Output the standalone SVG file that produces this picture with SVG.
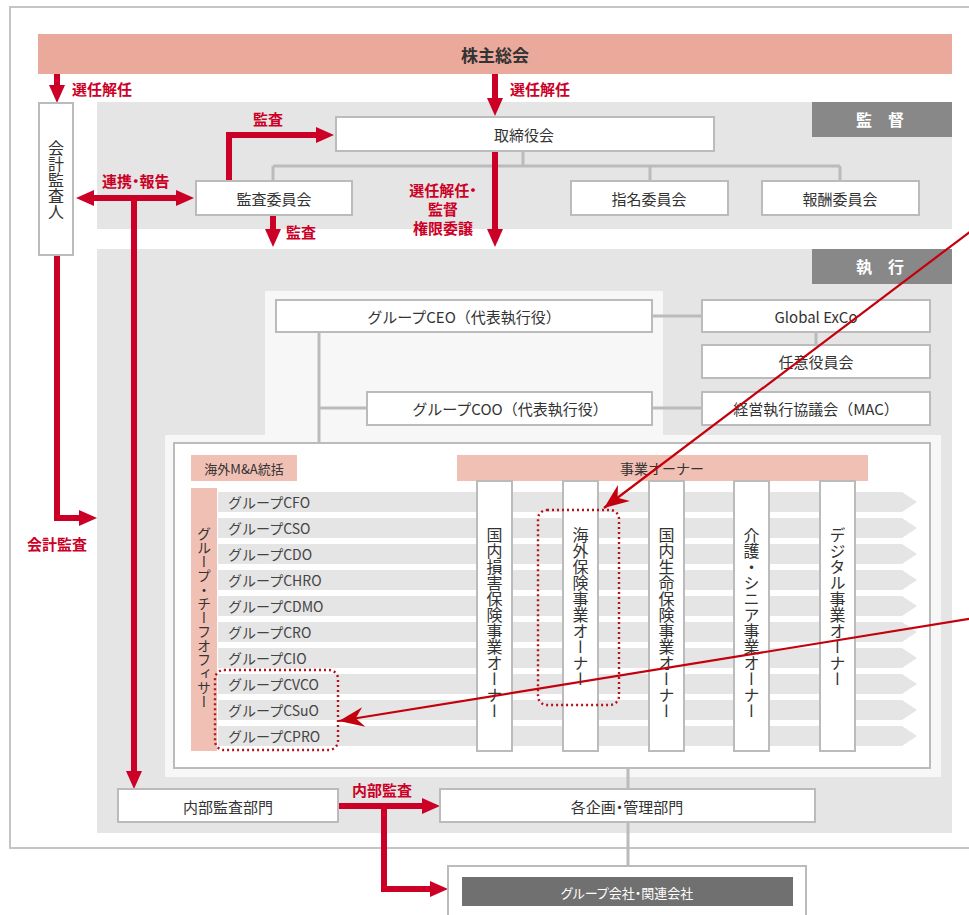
<svg xmlns="http://www.w3.org/2000/svg" width="969" height="915" viewBox="0 0 969 915">
<defs>
<style>
text{font-family:"Noto Sans CJK JP","Noto Sans",sans-serif;}
.box{fill:#fff;stroke:#bbb;stroke-width:2}
.t{font-size:15px;fill:#333;text-anchor:middle;dominant-baseline:central}
.r{font-size:14px;fill:#444;dominant-baseline:central}
.red{font-size:15px;font-weight:bold;fill:#cc0026;dominant-baseline:central}
.thick{stroke:#cc0026;stroke-width:6;fill:none}
.gl{stroke:#bbb;stroke-width:3;fill:none}
.v{writing-mode:vertical-rl;font-size:16px;fill:#333}
.thin{stroke:#c4000c;stroke-width:2.2;fill:none}
.dot{fill:none;stroke:#b5121b;stroke-width:2.4;stroke-dasharray:2 3}
.pink{fill:#f1c0b5}
.lab{fill:#888}
.lt{font-size:16px;font-weight:bold;fill:#fff;text-anchor:middle;dominant-baseline:central}
.stripe{fill:#e5e5e5}
.p{font-feature-settings:"palt"}
</style>
<marker id="ah" viewBox="0 -8 18 16" refX="0" refY="0" markerWidth="18" markerHeight="16" markerUnits="userSpaceOnUse" orient="auto-start-reverse"><path d="M0,-8 L18,0 L0,8z" fill="#cc0026"/></marker>
<marker id="ta" viewBox="-26 -11 27 22" refX="0" refY="0" markerWidth="27" markerHeight="22" markerUnits="userSpaceOnUse" orient="auto"><path d="M0,0 L-25,-10 L-17,0 L-25,10z" fill="#c4000c"/></marker>
<path id="stripe" d="M218,0 H902 L917,10 L902,20 H218z"/>
</defs>

<!-- background panels -->
<rect x="10" y="7" width="980" height="841" fill="#fff" stroke="#c4c4c4" stroke-width="2"/>
<rect x="97" y="102" width="855" height="127" fill="#e5e5e5"/>
<rect x="97" y="249" width="855" height="584" fill="#e5e5e5"/>
<path d="M265,291 H663 V435 H941 V777 H165 V435 H265z" fill="#f7f7f7"/>

<g id="shareholders">
<rect x="38" y="34" width="914" height="40" fill="#eba99b"/>
<text x="495" y="54" class="t" style="font-size:17px;font-weight:bold">株主総会</text>
</g>
<g id="label-kantoku">
<rect x="812" y="102" width="140" height="35" class="lab"/>
<text x="880" y="119" class="lt">監　督</text>
</g>
<g id="label-shikkou">
<rect x="812" y="249" width="140" height="35" class="lab"/>
<text x="880" y="266" class="lt">執　行</text>
</g>

<g id="connectors">
<path class="gl" d="M523,151 V166 M273,166 H840 M273,166 V181 M650,166 V181 M840,166 V181"/>
<path class="gl" d="M652,316 H702 M652,408 H702 M816,332 V345 M319,332 V443 M319,408 H367 M628,768 V788 M628,822 V866"/>
<path class="thick" d="M57,74 V85" marker-end="url(#ah)"/>
<path class="thick" d="M495,74 V98" marker-end="url(#ah)"/>
<path class="thick" d="M495,151 V229" marker-end="url(#ah)"/>
<path class="thick" d="M229,181 V135 H316" marker-end="url(#ah)"/>
<path class="thick" d="M273,215 V229" marker-end="url(#ah)"/>
<path class="thick" d="M94,198 H176" marker-start="url(#ah)" marker-end="url(#ah)"/>
<path class="thick" d="M134,198 V771" marker-end="url(#ah)"/>
<path class="thick" d="M57,255 V518 H79" marker-end="url(#ah)"/>
<path class="thick" d="M338,806 H422" marker-end="url(#ah)"/>
<path class="thick" d="M384,806 V889 H430" marker-end="url(#ah)"/>
</g>

<g id="red-labels">
<text x="72" y="88" class="red">選任解任</text>
<text x="510" y="88" class="red">選任解任</text>
<text x="253" y="118" class="red">監査</text>
<text x="102" y="180" class="red p">連携・報告</text>
<text x="286" y="231" class="red">監査</text>
<text x="443" y="189" class="red p" text-anchor="middle">選任解任・</text>
<text x="443" y="208" class="red" text-anchor="middle">監督</text>
<text x="443" y="227" class="red" text-anchor="middle">権限委譲</text>
<text x="27" y="543" class="red">会計監査</text>
<text x="352" y="789" class="red">内部監査</text>
</g>

<g id="auditor">
<rect x="39" y="103" width="34" height="152" class="box"/>
<text x="56" y="140" class="v">会計監査人</text>
</g>
<g id="board">
<rect x="336" y="117" width="378" height="34" class="box"/>
<text x="524" y="134" class="t">取締役会</text>
</g>
<g id="audit-committee">
<rect x="196" y="181" width="156" height="34" class="box"/>
<text x="274" y="198" class="t">監査委員会</text>
</g>
<g id="nomination-committee">
<rect x="571" y="181" width="157" height="34" class="box"/>
<text x="649" y="198" class="t">指名委員会</text>
</g>
<g id="compensation-committee">
<rect x="762" y="181" width="157" height="34" class="box"/>
<text x="840" y="198" class="t">報酬委員会</text>
</g>

<g id="ceo">
<rect x="276" y="300" width="376" height="32" class="box"/>
<text x="464" y="316" class="t">グループCEO（代表執行役）</text>
</g>
<g id="coo">
<rect x="367" y="392" width="285" height="33" class="box"/>
<text x="510" y="408" class="t">グループCOO（代表執行役）</text>
</g>
<g id="global-exco">
<rect x="702" y="300" width="228" height="32" class="box"/>
<text x="816" y="316" class="t">Global ExCo</text>
</g>
<g id="optional-board">
<rect x="702" y="345" width="228" height="33" class="box"/>
<text x="816" y="361" class="t">任意役員会</text>
</g>
<g id="mac">
<rect x="702" y="392" width="228" height="33" class="box"/>
<text x="816" y="408" class="t">経営執行協議会（MAC）</text>
</g>

<g id="execution-area">
<rect x="174" y="443" width="756" height="325" class="box"/>
</g>
<g id="ma">
<rect x="191" y="455" width="106" height="26" class="pink"/>
<text x="244" y="468" class="t" style="font-size:13px">海外M&amp;A統括</text>
</g>
<g id="business-owner-header">
<rect x="457" y="455" width="411" height="26" class="pink"/>
<text x="662" y="468" class="t" style="font-size:14px">事業オーナー</text>
</g>
<g id="chief-officers">
<rect x="191" y="488" width="26" height="263" class="pink"/>
<text x="204" y="527" class="v" style="font-size:14px">グループ・チーフオフィサー</text>
</g>
<g id="rows">
<use href="#stripe" y="492" class="stripe"/>
<use href="#stripe" y="518" class="stripe"/>
<use href="#stripe" y="544" class="stripe"/>
<use href="#stripe" y="570" class="stripe"/>
<use href="#stripe" y="596" class="stripe"/>
<use href="#stripe" y="622" class="stripe"/>
<use href="#stripe" y="648" class="stripe"/>
<use href="#stripe" y="674" class="stripe"/>
<use href="#stripe" y="700" class="stripe"/>
<use href="#stripe" y="726" class="stripe"/>
<text x="228" y="502" class="r">グループCFO</text>
<text x="228" y="528" class="r">グループCSO</text>
<text x="228" y="554" class="r">グループCDO</text>
<text x="228" y="580" class="r">グループCHRO</text>
<text x="228" y="606" class="r">グループCDMO</text>
<text x="228" y="632" class="r">グループCRO</text>
<text x="228" y="658" class="r">グループCIO</text>
<text x="228" y="684" class="r">グループCVCO</text>
<text x="228" y="710" class="r">グループCSuO</text>
<text x="228" y="736" class="r">グループCPRO</text>
</g>
<g id="owner-domestic-pc">
<rect x="477" y="481" width="35" height="270" class="box"/>
<text x="494.5" y="527" class="v">国内損害保険事業オーナー</text>
</g>
<g id="owner-overseas">
<rect x="563" y="481" width="35" height="270" class="box"/>
<text x="580.5" y="527" class="v">海外保険事業オーナー</text>
</g>
<g id="owner-domestic-life">
<rect x="649" y="481" width="35" height="270" class="box"/>
<text x="666.5" y="527" class="v">国内生命保険事業オーナー</text>
</g>
<g id="owner-care">
<rect x="734" y="481" width="35" height="270" class="box"/>
<text x="751.5" y="527" class="v">介護・シニア事業オーナー</text>
</g>
<g id="owner-digital">
<rect x="820" y="481" width="35" height="270" class="box"/>
<text x="837.5" y="527" class="v">デジタル事業オーナー</text>
</g>

<g id="internal-audit">
<rect x="118" y="789" width="220" height="33" class="box"/>
<text x="228" y="806" class="t">内部監査部門</text>
</g>
<g id="planning">
<rect x="440" y="789" width="375" height="33" class="box"/>
<text x="627" y="806" class="t p">各企画・管理部門</text>
</g>
<g id="group-companies">
<rect x="448" y="866" width="358" height="60" class="box"/>
<rect x="462" y="877" width="331" height="29" fill="#707070"/>
<text x="627" y="892" class="t p" style="font-size:13px;fill:#fff">グループ会社・関連会社</text>
</g>

<g id="highlights">
<rect x="215" y="670" width="123" height="80" rx="9" class="dot"/>
<rect x="538" y="510" width="81" height="195" rx="9" class="dot"/>
<path class="thin" d="M975,228 L604,508" marker-end="url(#ta)"/>
<path class="thin" d="M975,618 L339,721" marker-end="url(#ta)"/>
</g>
</svg>
